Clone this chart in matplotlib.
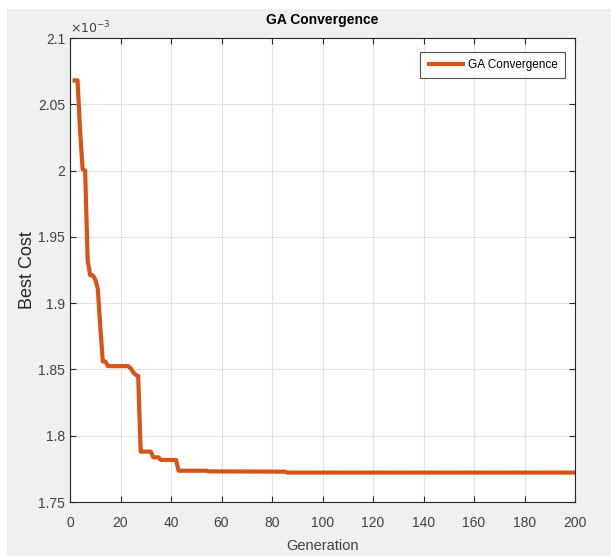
import matplotlib
matplotlib.use("Agg")
import matplotlib.pyplot as plt
from matplotlib.ticker import FuncFormatter
from matplotlib.patches import Rectangle

# Data (Best Cost in units of 1e-3), breakpoints
generations = [1, 3, 4, 5, 6, 7, 8, 9, 10, 11, 12, 13, 14, 15, 23, 24, 25, 26, 27,
               28, 32, 33, 35, 36, 42, 43, 54, 55, 85, 86, 200]
best_cost = [2.068, 2.068, 2.030, 2.001, 2.000, 1.932, 1.921, 1.921, 1.918, 1.911,
             1.882, 1.856, 1.856, 1.8525, 1.8525, 1.851, 1.848, 1.846, 1.845,
             1.788, 1.788, 1.7837, 1.7837, 1.7817, 1.7817, 1.7736, 1.7736, 1.7731,
             1.7729, 1.7722, 1.7722]
x_ticks = [0, 20, 40, 60, 80, 100, 120, 140, 160, 180, 200]
y_ticks = [1.75, 1.8, 1.85, 1.9, 1.95, 2.0, 2.05, 2.1]

plt.rcParams['font.family'] = ['Liberation Sans', 'DejaVu Sans']
W, H = 611, 556
fig = plt.figure(figsize=(W / 100, H / 100), dpi=100, facecolor='white')
fig.patches.append(Rectangle((7 / W, 0), 1 - 7 / W, 1 - 9 / H, transform=fig.transFigure,
                             facecolor='#f0f0f0', edgecolor='none', zorder=-10))

AX_L, AX_T, AX_W, AX_H = 70, 38, 505, 464
ax = fig.add_axes([AX_L / W, 1 - (AX_T + AX_H) / H, AX_W / W, AX_H / H])
ax.set_facecolor('white')
ax.plot(generations, best_cost, color='#D95319', linewidth=3.0, label='GA Convergence',
        solid_joinstyle='round', solid_capstyle='butt')
ax.set_xlim(0, 200)
ax.set_ylim(1.75, 2.1)
ax.set_xticks(x_ticks)
ax.set_yticks(y_ticks)
ax.yaxis.set_major_formatter(FuncFormatter(lambda v, p: '%g' % round(v, 4)))
ax.grid(True, color='#e3e3e3', linewidth=0.8)
ax.set_axisbelow(True)
ax.tick_params(direction='in', length=4, width=0.8, top=True, right=True,
               labelsize=10, colors='#262626', labelcolor='#404040')
ax.tick_params(axis='x', pad=10)
ax.tick_params(axis='y', pad=3.5)
for s in ax.spines.values():
    s.set_color('#262626')
    s.set_linewidth(0.8)

ax.text(0.5, 1 + 18 / AX_H, 'GA Convergence', transform=ax.transAxes, fontsize=10,
        fontweight='bold', color='black', ha='center', va='center')
ax.set_xlabel('Generation', fontsize=10.5, color='#404040')
ax.xaxis.set_label_coords(0.5, -44 / AX_H)
ax.xaxis.label.set_va('center')
ax.set_ylabel('Best Cost', fontsize=13, color='#262626')
ax.yaxis.set_label_coords(-43 / AX_W, 0.5)
ax.yaxis.label.set_va('center')
ax.text(0.0, 1.004, r'$\times10^{-3}$', transform=ax.transAxes, fontsize=9,
        color='#404040', ha='left', va='bottom')

leg = ax.legend(loc='upper right', bbox_to_anchor=((565 - AX_L) / AX_W, (AX_T + AX_H - 52) / AX_H),
                borderaxespad=0, fontsize=8.5, frameon=True, fancybox=False,
                handlelength=3.2, handletextpad=0.3, borderpad=0.6)
leg.get_frame().set_edgecolor('#262626')
leg.get_frame().set_linewidth(0.8)

fig.savefig('out.png', dpi=100, facecolor=fig.get_facecolor())
